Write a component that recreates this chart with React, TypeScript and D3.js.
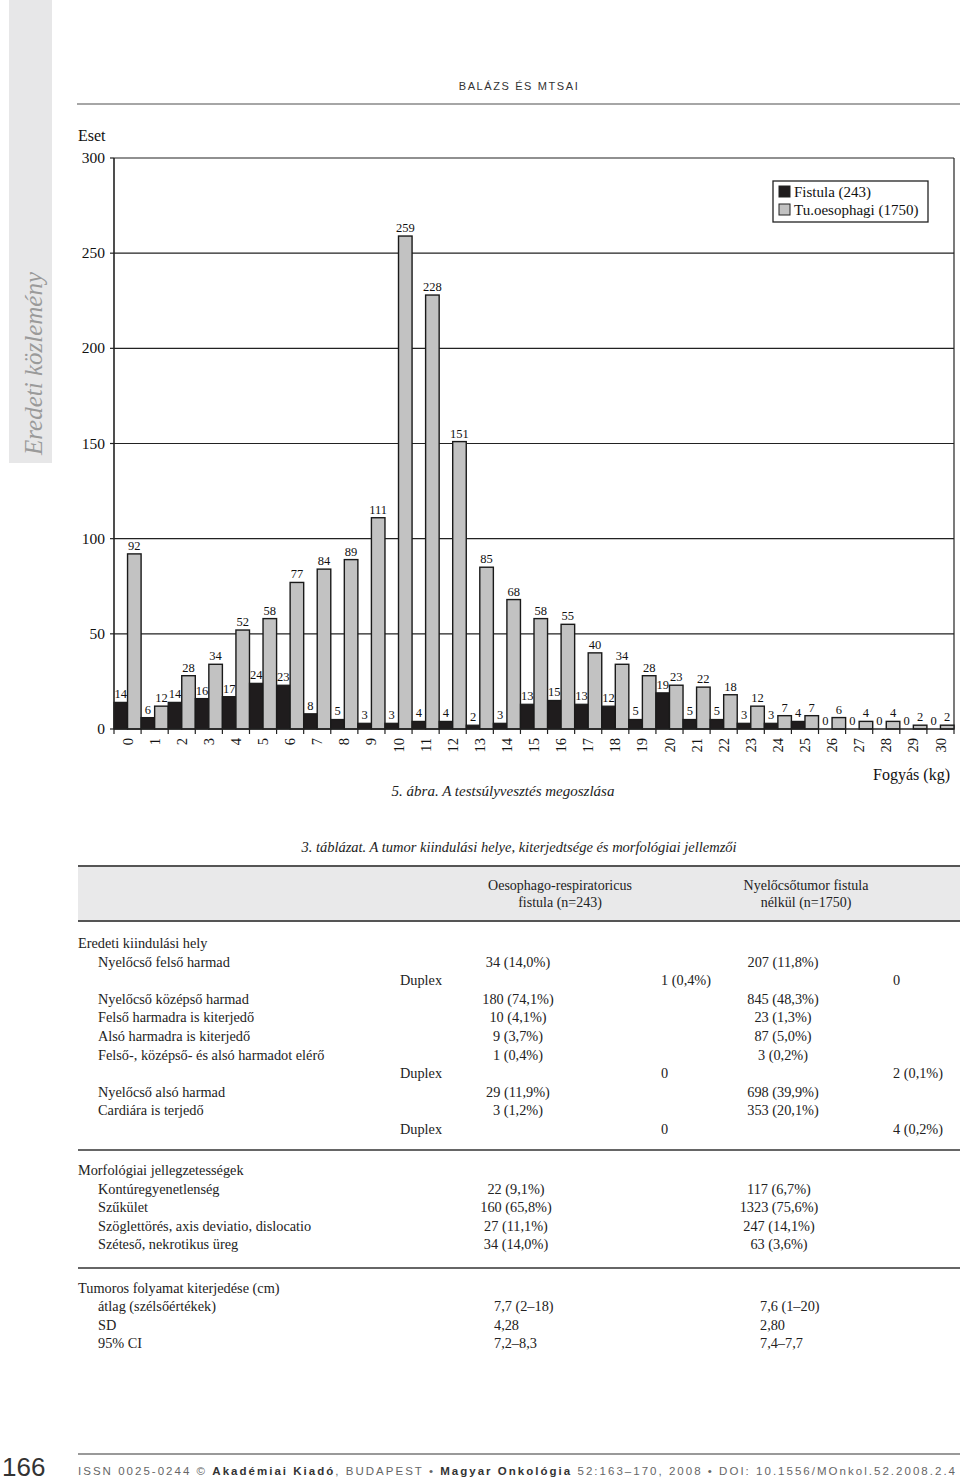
import React from "react"
import * as d3 from "d3"

// testsúlyvesztés (kg) szerinti megoszlás
const categories = d3.range(0, 31).map(String)
const fistula = [14, 6, 14, 16, 17, 24, 23, 8, 5, 3, 3, 4, 4, 2, 3, 13, 15, 13, 12, 5, 19, 5, 5, 3, 3, 4, 0, 0, 0, 0, 0]
const tuOesophagi = [92, 12, 28, 34, 52, 58, 77, 84, 89, 111, 259, 228, 151, 85, 68, 58, 55, 40, 34, 28, 23, 22, 18, 12, 7, 7, 6, 4, 4, 2, 2]
const yTicks = [0, 50, 100, 150, 200, 250, 300]
const seriesNames = ["Fistula (243)", "Tu.oesophagi (1750)"]

// 3. táblázat
const siteLabels = [
  "Nyelőcső felső harmad", "Duplex", "Nyelőcső középső harmad", "Felső harmadra is kiterjedő",
  "Alsó harmadra is kiterjedő", "Felső-, középső- és alsó harmadot elérő", "Duplex",
  "Nyelőcső alsó harmad", "Cardiára is terjedő", "Duplex",
]
const siteFistula = ["34 (14,0%)", "1 (0,4%)", "180 (74,1%)", "10 (4,1%)", "9 (3,7%)", "1 (0,4%)", "0", "29 (11,9%)", "3 (1,2%)", "0"]
const siteTumor = ["207 (11,8%)", "0", "845 (48,3%)", "23 (1,3%)", "87 (5,0%)", "3 (0,2%)", "2 (0,1%)", "698 (39,9%)", "353 (20,1%)", "4 (0,2%)"]
const morphLabels = ["Kontúregyenetlenség", "Szűkület", "Szöglettörés, axis deviatio, dislocatio", "Széteső, nekrotikus üreg"]
const morphFistula = ["22 (9,1%)", "160 (65,8%)", "27 (11,1%)", "34 (14,0%)"]
const morphTumor = ["117 (6,7%)", "1323 (75,6%)", "247 (14,1%)", "63 (3,6%)"]
const extentLabels = ["átlag (szélsőértékek)", "SD", "95% CI"]
const extentFistula = ["7,7 (2–18)", "4,28", "7,2–8,3"]
const extentTumor = ["7,6 (1–20)", "2,80", "7,4–7,7"]

const serif = "'Liberation Serif', 'Times New Roman', serif"
const sans = "'Liberation Sans', Arial, sans-serif"
const BLACK = "#1f1c1d"
const GREY = "#c2c2c2"

export default function App() {
  const x = d3.scaleBand().domain(categories).range([114, 954]).padding(0)
  const sub = d3.scaleBand().domain(["f", "t"]).range([0, x.bandwidth()])
  const y = d3.scaleLinear().domain([0, 300]).range([729, 158])
  const rowStep = 18.6

  const isDuplex = (l: string) => l === "Duplex"

  return (
    <svg width={960} height={1483} style={{ position: "absolute", left: 0, top: 0, background: "#fff" }}>
      {/* oldalsáv */}
      <rect x={9} y={0} width={43} height={463} fill="#e7e7e8" />
      <text transform="translate(42,455) rotate(-90)" fontFamily={serif} fontStyle="italic" fontSize={25} fill="#9a9a9a">
        Eredeti közlemény
      </text>

      {/* fejléc */}
      <text x={519} y={90} textAnchor="middle" fontFamily={sans} fontSize={11} letterSpacing={1.6} fill="#333">BALÁZS ÉS MTSAI</text>
      <line x1={77} x2={960} y1={104} y2={104} stroke="#888" strokeWidth={1.5} />

      {/* diagram */}
      <text x={78} y={141} fontFamily={serif} fontSize={16} fill="#111">Eset</text>
      {yTicks.map(t => (
        <g key={t}>
          {t > 0 && <line x1={114} x2={954} y1={y(t)} y2={y(t)} stroke="#222" strokeWidth={1.2} />}
          <line x1={110} x2={114} y1={y(t)} y2={y(t)} stroke="#222" strokeWidth={1.2} />
          <text x={105} y={y(t) + 5} textAnchor="end" fontFamily={serif} fontSize={15.5} fill="#111">{t}</text>
        </g>
      ))}
      <line x1={954} x2={954} y1={y(300)} y2={y(0)} stroke="#222" strokeWidth={1.2} />

      {categories.map((c, i) => {
        const x0 = x(c) as number
        return (
          <g key={c}>
            <rect x={x0 + (sub("f") as number)} y={y(fistula[i])} width={sub.bandwidth()} height={y(0) - y(fistula[i])}
              fill={BLACK} stroke="#1a1a1a" strokeWidth={1.2} />
            <rect x={x0 + (sub("t") as number)} y={y(tuOesophagi[i])} width={sub.bandwidth()} height={y(0) - y(tuOesophagi[i])}
              fill={GREY} stroke="#1a1a1a" strokeWidth={1.4} />
            <text x={x0 + (sub("f") as number) + sub.bandwidth() / 2} y={y(fistula[i]) - 4} textAnchor="middle"
              fontFamily={serif} fontSize={12.5} fill="#111">{fistula[i]}</text>
            <text x={x0 + (sub("t") as number) + sub.bandwidth() / 2} y={y(tuOesophagi[i]) - 4} textAnchor="middle"
              fontFamily={serif} fontSize={12.5} fill="#111">{tuOesophagi[i]}</text>
            <line x1={x0} x2={x0} y1={y(0)} y2={y(0) + 5} stroke="#222" strokeWidth={1.2} />
            <text transform={`translate(${x0 + x.bandwidth() / 2},738) rotate(-90)`} textAnchor="end" dy="0.35em"
              fontFamily={serif} fontSize={14.5} fill="#111">{c}</text>
          </g>
        )
      })}
      <line x1={954} x2={954} y1={y(0)} y2={y(0) + 5} stroke="#222" strokeWidth={1.2} />
      <line x1={114} x2={954} y1={y(0)} y2={y(0)} stroke="#222" strokeWidth={1.6} />
      <line x1={114} x2={114} y1={y(300)} y2={y(0)} stroke="#222" strokeWidth={1.6} />

      {/* jelmagyarázat */}
      <rect x={773} y={181} width={155} height={41} fill="#fff" stroke="#222" strokeWidth={1.3} />
      {seriesNames.map((n, i) => (
        <g key={n}>
          <rect x={779} y={186 + i * 18} width={11} height={11} fill={i === 0 ? BLACK : GREY} stroke="#222" strokeWidth={1} />
          <text x={794} y={197 + i * 18} fontFamily={serif} fontSize={15} fill="#111">{n}</text>
        </g>
      ))}

      <text x={950} y={780} textAnchor="end" fontFamily={serif} fontSize={16} fill="#111">Fogyás (kg)</text>
      <text x={503} y={796} textAnchor="middle" fontFamily={serif} fontStyle="italic" fontSize={15} fill="#222">
        5. ábra. A testsúlyvesztés megoszlása
      </text>

      {/* táblázat */}
      <text x={519} y={852} textAnchor="middle" fontFamily={serif} fontStyle="italic" fontSize={14.5} fill="#222">
        3. táblázat. A tumor kiindulási helye, kiterjedtsége és morfológiai jellemzői
      </text>
      <rect x={78} y={866} width={882} height={55} fill="#e9e9ea" />
      <line x1={78} x2={960} y1={866} y2={866} stroke="#555" strokeWidth={2} />
      <line x1={78} x2={960} y1={921} y2={921} stroke="#555" strokeWidth={2} />
      <g fontFamily={serif} fontSize={14} fill="#222" textAnchor="middle">
        <text x={560} y={890}>Oesophago-respiratoricus</text>
        <text x={560} y={907}>fistula (n=243)</text>
        <text x={806} y={890}>Nyelőcsőtumor fistula</text>
        <text x={806} y={907}>nélkül (n=1750)</text>
      </g>

      <g fontFamily={serif} fontSize={14.3} fill="#222">
        <text x={78} y={948}>Eredeti kiindulási hely</text>
        {siteLabels.map((l, i) => {
          const yy = 948 + (i + 1) * rowStep
          return isDuplex(l) ? (
            <g key={i}>
              <text x={400} y={yy}>{l}</text>
              <text x={661} y={yy}>{siteFistula[i]}</text>
              <text x={893} y={yy}>{siteTumor[i]}</text>
            </g>
          ) : (
            <g key={i}>
              <text x={98} y={yy}>{l}</text>
              <text x={518} y={yy} textAnchor="middle">{siteFistula[i]}</text>
              <text x={783} y={yy} textAnchor="middle">{siteTumor[i]}</text>
            </g>
          )
        })}
      </g>
      <line x1={78} x2={960} y1={1150} y2={1150} stroke="#666" strokeWidth={2} />

      <g fontFamily={serif} fontSize={14.3} fill="#222">
        <text x={78} y={1175}>Morfológiai jellegzetességek</text>
        {morphLabels.map((l, i) => {
          const yy = 1175 + (i + 1) * rowStep
          return (
            <g key={i}>
              <text x={98} y={yy}>{l}</text>
              <text x={516} y={yy} textAnchor="middle">{morphFistula[i]}</text>
              <text x={779} y={yy} textAnchor="middle">{morphTumor[i]}</text>
            </g>
          )
        })}
      </g>
      <line x1={78} x2={960} y1={1268} y2={1268} stroke="#666" strokeWidth={2} />

      <g fontFamily={serif} fontSize={14.3} fill="#222">
        <text x={78} y={1293}>Tumoros folyamat kiterjedése (cm)</text>
        {extentLabels.map((l, i) => {
          const yy = 1293 + (i + 1) * 18.4
          return (
            <g key={i}>
              <text x={98} y={yy}>{l}</text>
              <text x={494} y={yy}>{extentFistula[i]}</text>
              <text x={760} y={yy}>{extentTumor[i]}</text>
            </g>
          )
        })}
      </g>

      {/* lábléc */}
      <line x1={78} x2={960} y1={1454} y2={1454} stroke="#777" strokeWidth={1.5} />
      <text x={2} y={1476} fontFamily={sans} fontSize={26} fill="#333">166</text>
      <text x={78} y={1475} fontFamily={sans} fontSize={11.5} fill="#666" textLength={877} lengthAdjust="spacing">
        ISSN 0025-0244 © <tspan fontWeight="bold" fill="#333">Akadémiai Kiadó</tspan>, BUDAPEST • <tspan fontWeight="bold" fill="#333">Magyar Onkológia</tspan> 52:163–170, 2008 • DOI: 10.1556/MOnkol.52.2008.2.4
      </text>
    </svg>
  )
}
